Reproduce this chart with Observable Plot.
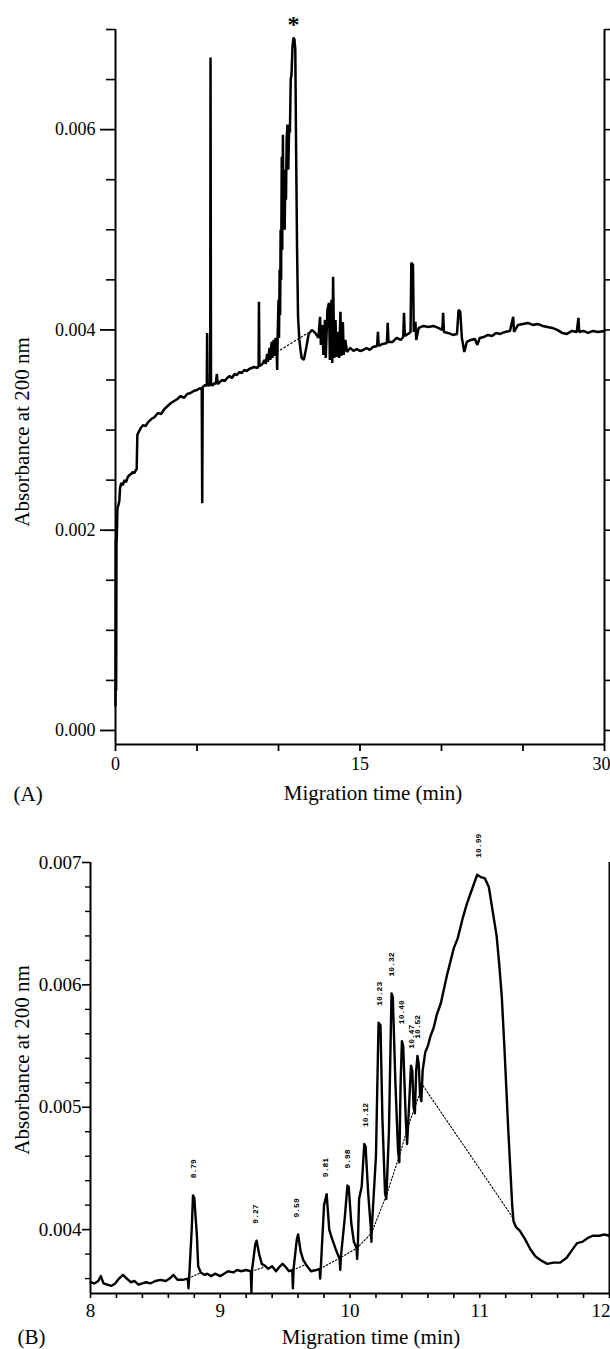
<!DOCTYPE html>
<html>
<head>
<meta charset="utf-8">
<script src="https://cdn.jsdelivr.net/npm/d3@7"></script>
<script src="https://cdn.jsdelivr.net/npm/@observablehq/plot@0.6"></script>
<style>
  body { margin: 0; background: #fff; }
  svg { display: block; }
</style>
</head>
<body>
<div id="chart"></div>
<script>
// ---------- Panel A data (time in min, absorbance in units of 0.001) ----------
const traceA = [
  [0.00,0.25],[0.02,1.90],[0.04,0.40],[0.06,1.85],[0.09,2.00],[0.12,2.22],[0.18,2.25],[0.24,2.30],
  [0.28,2.42],[0.35,2.47],[0.45,2.45],[0.55,2.50],[0.65,2.48],[0.75,2.53],[0.85,2.55],[0.95,2.56],
  [1.05,2.58],[1.15,2.57],[1.25,2.60],[1.30,2.61],[1.34,2.95],[1.42,2.98],[1.55,3.02],[1.70,3.05],
  [1.85,3.04],[2.00,3.08],[2.20,3.11],[2.40,3.13],[2.60,3.17],[2.80,3.16],[3.00,3.21],[3.20,3.24],
  [3.40,3.27],[3.60,3.29],[3.80,3.31],[4.00,3.34],[4.20,3.32],[4.40,3.36],[4.60,3.37],[4.80,3.39],
  [5.00,3.40],[5.20,3.42],[5.29,3.40],[5.32,2.27],[5.35,3.43],[5.50,3.45],[5.60,3.44],[5.62,3.97],
  [5.65,3.46],[5.75,3.44],[5.81,3.47],[5.83,6.72],[5.86,3.47],[5.95,3.44],[6.05,3.47],[6.15,3.46],
  [6.22,3.56],[6.27,3.46],[6.40,3.48],[6.55,3.50],[6.70,3.49],[6.85,3.52],[7.00,3.54],[7.15,3.52],
  [7.30,3.56],[7.45,3.55],[7.60,3.58],[7.75,3.57],[7.90,3.60],[8.05,3.59],[8.20,3.61],[8.35,3.62],
  [8.50,3.63],[8.70,3.62],[8.78,3.64],[8.80,4.28],[8.83,3.64],[8.95,3.65],[9.05,3.67],[9.15,3.70],
  [9.22,3.66],[9.30,3.76],[9.35,3.68],[9.45,3.82],[9.50,3.70],[9.58,3.88],[9.63,3.72],[9.70,3.90],
  [9.75,3.74],[9.82,3.92],[9.88,3.82],[9.92,3.60],[9.95,3.95],[10.00,4.30],[10.03,3.92],[10.07,4.60],
  [10.10,4.15],[10.13,5.00],[10.16,4.50],[10.20,5.73],[10.23,4.80],[10.27,5.95],[10.30,5.20],
  [10.34,5.55],[10.38,5.00],[10.42,5.60],[10.46,5.30],[10.50,5.90],[10.55,6.05],[10.60,5.60],
  [10.65,6.00],[10.70,5.97],[10.75,6.50],[10.80,6.55],[10.86,6.83],[10.92,6.92],[10.98,6.90],
  [11.03,6.80],[11.08,5.80],[11.14,4.80],[11.20,4.13],[11.28,3.90],[11.35,3.80],[11.42,3.72],
  [11.55,3.70],[11.70,3.82],[11.85,3.96],[12.05,4.00],[12.25,3.97],[12.45,3.92],[12.55,4.13],
  [12.60,3.85],[12.70,4.05],[12.75,3.75],[12.85,4.10],[12.90,3.72],[13.00,4.20],[13.10,4.27],
  [13.15,3.70],[13.25,4.30],[13.30,3.67],[13.35,4.53],[13.42,3.72],[13.50,4.10],[13.55,3.73],
  [13.65,3.98],[13.72,3.72],[13.80,4.18],[13.85,3.74],[13.95,4.08],[14.00,3.75],[14.10,3.90],
  [14.20,3.78],[14.40,3.82],[14.60,3.79],[14.80,3.81],[15.00,3.79],[15.20,3.80],[15.40,3.82],
  [15.60,3.80],[15.80,3.83],[16.05,3.84],[16.10,3.98],[16.15,3.84],[16.40,3.86],[16.65,3.87],
  [16.70,4.07],[16.75,3.88],[17.00,3.88],[17.25,3.92],[17.50,3.90],[17.65,3.93],[17.70,4.17],
  [17.75,3.94],[17.95,3.96],[18.10,3.98],[18.15,4.67],[18.25,4.65],[18.30,3.98],[18.40,4.08],
  [18.45,3.90],[18.60,4.02],[18.90,4.04],[19.20,4.03],[19.50,4.04],[19.80,4.02],[20.05,4.00],
  [20.10,4.17],[20.15,3.98],[20.40,3.97],[20.70,3.95],[20.95,3.96],[21.05,4.20],[21.15,4.18],
  [21.25,3.92],[21.40,3.78],[21.55,3.88],[21.80,3.90],[22.05,3.91],[22.20,3.85],[22.35,3.92],
  [22.60,3.93],[22.85,3.95],[23.10,3.94],[23.35,3.97],[23.60,3.96],[23.90,3.98],[24.20,3.99],
  [24.40,4.13],[24.45,3.98],[24.70,4.05],[25.00,4.06],[25.30,4.07],[25.60,4.05],[25.90,4.06],
  [26.20,4.04],[26.50,4.03],[26.80,4.02],[27.10,4.00],[27.40,3.97],[27.70,3.96],[28.00,3.99],
  [28.30,3.98],[28.40,4.12],[28.45,3.98],[28.70,3.99],[29.00,3.97],[29.30,3.99],[29.60,3.98],
  [30.00,3.99]
];
const baselineA = [[9.92,3.78],[11.80,3.97]];
const peakA = [{t: 10.92, v: 6.92, label: "*"}];
const majorYA = [0, 2, 4, 6];
const minorYA = [0.5, 1, 1.5, 2.5, 3, 3.5, 4.5, 5, 5.5, 6.5, 7];
const ticksXA = [0, 5, 10, 15, 20, 25, 30];
const labelsXA = [0, 15];
const lastLabelXA = [30];

// ---------- Panel B data ----------
const traceB = [
  [8.00,3.57],[8.03,3.56],[8.06,3.58],[8.08,3.62],[8.10,3.56],[8.13,3.55],[8.16,3.54],[8.19,3.56],
  [8.22,3.60],[8.25,3.63],[8.28,3.60],[8.31,3.57],[8.34,3.58],[8.37,3.55],[8.40,3.56],[8.43,3.57],
  [8.46,3.56],[8.50,3.58],[8.54,3.59],[8.58,3.58],[8.61,3.60],[8.64,3.63],[8.67,3.59],[8.71,3.59],
  [8.75,3.60],[8.755,3.52],[8.76,3.60],[8.78,4.00],[8.79,4.28],[8.80,4.26],[8.82,3.95],[8.83,3.70],
  [8.85,3.65],[8.88,3.63],[8.90,3.64],[8.93,3.62],[8.96,3.64],[9.00,3.62],[9.03,3.64],[9.06,3.66],
  [9.10,3.65],[9.13,3.67],[9.16,3.66],[9.20,3.67],[9.235,3.66],[9.24,3.49],[9.245,3.67],[9.27,3.88],
  [9.28,3.91],[9.30,3.80],[9.32,3.72],[9.35,3.70],[9.37,3.68],[9.40,3.70],[9.43,3.66],[9.46,3.70],
  [9.48,3.72],[9.50,3.70],[9.53,3.66],[9.555,3.67],[9.56,3.52],[9.565,3.68],[9.59,3.92],[9.60,3.96],
  [9.62,3.82],[9.64,3.75],[9.67,3.70],[9.70,3.66],[9.74,3.67],[9.765,3.68],[9.77,3.60],[9.775,3.69],
  [9.80,4.20],[9.82,4.29],[9.84,4.00],[9.86,3.93],[9.89,3.84],[9.92,3.76],[9.925,3.67],[9.93,3.78],
  [9.96,4.10],[9.98,4.36],[9.99,4.35],[10.01,4.05],[10.03,3.90],[10.05,3.85],[10.055,3.76],[10.06,3.86],
  [10.07,4.25],[10.09,4.35],[10.11,4.70],[10.12,4.68],[10.14,4.30],[10.16,4.02],[10.165,3.90],
  [10.17,4.05],[10.20,4.60],[10.22,5.69],[10.235,5.67],[10.25,4.90],[10.27,4.30],[10.28,4.25],
  [10.30,4.80],[10.32,5.93],[10.33,5.90],[10.35,5.20],[10.37,4.65],[10.38,4.55],[10.39,5.20],
  [10.40,5.54],[10.41,5.50],[10.43,4.90],[10.44,4.70],[10.45,4.90],[10.47,5.34],[10.48,5.30],
  [10.49,5.00],[10.50,4.95],[10.51,5.30],[10.52,5.42],[10.53,5.35],[10.54,5.10],[10.55,5.05],
  [10.56,5.30],[10.58,5.45],[10.60,5.50],[10.62,5.58],[10.645,5.65],[10.67,5.76],[10.70,5.85],
  [10.75,6.09],[10.80,6.30],[10.83,6.38],[10.87,6.55],[10.90,6.66],[10.95,6.81],[10.98,6.90],
  [11.01,6.88],[11.04,6.87],[11.07,6.80],[11.10,6.60],[11.13,6.40],[11.15,6.17],[11.17,5.90],
  [11.19,5.49],[11.22,4.81],[11.25,4.20],[11.26,4.07],[11.28,4.02],[11.31,3.99],[11.35,3.92],
  [11.39,3.84],[11.43,3.78],[11.47,3.75],[11.52,3.72],[11.57,3.73],[11.62,3.73],[11.67,3.77],
  [11.71,3.83],[11.75,3.89],[11.79,3.90],[11.83,3.93],[11.87,3.95],[11.92,3.95],[11.96,3.96],
  [12.00,3.95]
];
// [segment, time, absorbance]
const baselineB = [
  [1,8.755,3.60],[1,8.85,3.65],
  [2,9.24,3.66],[2,9.33,3.69],
  [3,9.56,3.67],[3,9.65,3.71],
  [4,9.77,3.68],[4,9.925,3.77],[4,10.055,3.85],[4,10.165,3.97],[4,10.28,4.28],
  [4,10.38,4.60],[4,10.44,4.82],[4,10.56,5.18],[4,11.26,4.09]
];
const peakTimes  = [8.79, 9.27, 9.59, 9.81, 9.98, 10.12, 10.23, 10.32, 10.40, 10.47, 10.52, 10.99];
const peakTops   = [4.28, 3.91, 3.96, 4.29, 4.36, 4.70, 5.69, 5.93, 5.54, 5.34, 5.42, 6.90];
const peakLabels = ["8.79","9.27","9.59","9.81","9.98","10.12","10.23","10.32","10.40","10.47","10.52","10.99"];
const majorYB = [4, 5, 6, 7];
const minorYB = [3.6, 3.8, 4.2, 4.4, 4.6, 4.8, 5.2, 5.4, 5.6, 5.8, 6.2, 6.4, 6.6, 6.8];
const ticksXB = [8, 8.2, 8.4, 8.6, 8.8, 9, 9.2, 9.4, 9.6, 9.8, 10, 10.2, 10.4, 10.6, 10.8, 11, 11.2, 11.4, 11.6, 11.8, 12];
const labelsXB = [8, 9, 10, 11];
const lastLabelXB = [12];

const yTitle = "Absorbance at 200 nm";
const xTitle = "Migration time (min)";

const fmt = d => (d / 1000).toFixed(3);
const none = () => "";
const serif = "Liberation Serif";
const mono = "Liberation Mono";
const X = d => d[0], Y = d => d[1];

const yMinA = -0.14, yMinB = 3.478;

const plotA = Plot.plot({
  width: 610, height: 815,
  marginLeft: 115, marginRight: 6, marginTop: 29, marginBottom: 71,
  x: {domain: [0, 30]},
  y: {domain: [yMinA, 7]},
  style: {fontFamily: serif, fontSize: "18px", background: "#fff", color: "#000"},
  marks: [
    Plot.axisY({anchor: "left", ticks: majorYA, tickSize: 15, tickPadding: 5, tickFormat: fmt, label: null, strokeWidth: 1.8, fontSize: 18, fontFamily: serif}),
    Plot.axisY({anchor: "left", ticks: minorYA, tickSize: 9, tickFormat: none, label: null, strokeWidth: 1.6}),
    Plot.axisY({anchor: "right", ticks: majorYA.concat(minorYA), tickSize: 7, tickFormat: none, label: null, strokeWidth: 1.6}),
    Plot.axisX({anchor: "bottom", ticks: ticksXA, tickSize: 7, tickPadding: 6, tickFormat: d => labelsXA.includes(d) ? String(d) : "", label: null, strokeWidth: 1.8, fontSize: 18, fontFamily: serif}),
    Plot.axisX({anchor: "bottom", ticks: lastLabelXA, tickSize: 0, tickPadding: 13, tickFormat: d => String(d), textAnchor: "end", dx: 6, label: null, fontSize: 18, fontFamily: serif}),
    Plot.ruleX([0, 30], {strokeWidth: 2}),
    Plot.ruleY([yMinA], {strokeWidth: 2}),
    Plot.line(baselineA, {x: X, y: Y, strokeWidth: 1.2, strokeDasharray: "1.5,2.5"}),
    Plot.line(traceA, {x: X, y: Y, strokeWidth: 2.5, strokeLinejoin: "miter"}),
    Plot.text(peakA, {x: "t", y: "v", text: "label", fontSize: 24, fontWeight: "bold", dy: -13, fontFamily: serif}),
    Plot.text([xTitle], {text: d => d, frameAnchor: "bottom", textAnchor: "middle", lineAnchor: "middle", dx: 13, dy: 49, fontSize: 21, fontFamily: serif}),
    Plot.text(["(A)"], {text: d => d, frameAnchor: "bottom-left", textAnchor: "start", lineAnchor: "middle", dx: -102, dy: 50, fontSize: 21, fontFamily: serif}),
    Plot.text([yTitle], {text: d => d, frameAnchor: "left", textAnchor: "middle", lineAnchor: "middle", rotate: -90, dx: -93, dy: 45, fontSize: 21, fontFamily: serif})
  ]
});

const peaksB = peakTimes.map((t, i) => ({t, v: peakTops[i], label: peakLabels[i]}));

const plotB = Plot.plot({
  width: 610, height: 534,
  marginLeft: 90, marginRight: 1, marginTop: 47, marginBottom: 56,
  x: {domain: [8, 12]},
  y: {domain: [yMinB, 7]},
  style: {fontFamily: serif, fontSize: "19px", background: "#fff", color: "#000"},
  marks: [
    Plot.axisY({anchor: "left", ticks: majorYB, tickSize: 8, tickPadding: 1, tickFormat: fmt, label: null, strokeWidth: 1.6, fontSize: 19, fontFamily: serif}),
    Plot.axisY({anchor: "left", ticks: minorYB, tickSize: 5, tickFormat: none, label: null, strokeWidth: 1.4}),
    Plot.axisX({anchor: "bottom", ticks: ticksXB, tickSize: 5, tickPadding: 5, tickFormat: d => labelsXB.includes(d) ? String(d) : "", label: null, strokeWidth: 1.6, fontSize: 19, fontFamily: serif}),
    Plot.axisX({anchor: "bottom", ticks: lastLabelXB, tickSize: 0, tickPadding: 10, tickFormat: d => String(d), textAnchor: "end", dx: 1, label: null, fontSize: 19, fontFamily: serif}),
    Plot.ruleX([8, 12], {strokeWidth: 2}),
    Plot.ruleY([yMinB], {strokeWidth: 2}),
    Plot.line(baselineB, {x: d => d[1], y: d => d[2], z: d => d[0], strokeWidth: 1.1, strokeDasharray: "1.5,2"}),
    Plot.line(traceB, {x: X, y: Y, strokeWidth: 2.4}),
    Plot.text(peaksB, {x: "t", y: "v", text: "label", rotate: -90, textAnchor: "start", lineAnchor: "middle", dy: -17, fontSize: 8, fontWeight: "bold", fontFamily: mono}),
    Plot.text([xTitle], {text: d => d, frameAnchor: "bottom", textAnchor: "middle", lineAnchor: "middle", dx: 21, dy: 44, fontSize: 21, fontFamily: serif}),
    Plot.text(["(B)"], {text: d => d, frameAnchor: "bottom-left", textAnchor: "start", lineAnchor: "middle", dx: -73, dy: 44, fontSize: 21, fontFamily: serif}),
    Plot.text([yTitle], {text: d => d, frameAnchor: "left", textAnchor: "middle", lineAnchor: "middle", rotate: -90, dx: -68, dy: -18, fontSize: 21, fontFamily: serif})
  ]
});

const root = document.getElementById("chart");
root.appendChild(plotA);
root.appendChild(plotB);
</script>
</body>
</html>
